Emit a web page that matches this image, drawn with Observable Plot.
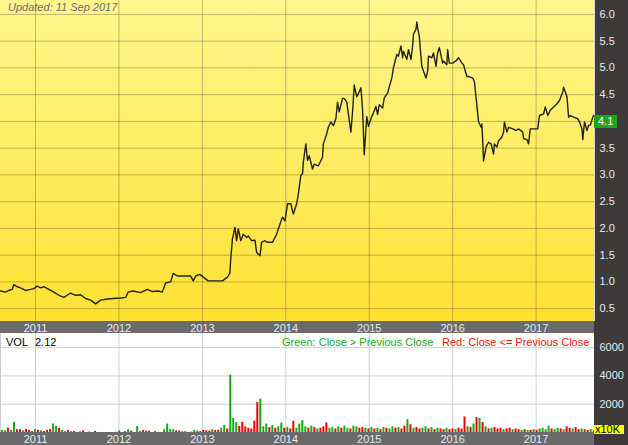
<!DOCTYPE html>
<html><head><meta charset="utf-8">
<script src="https://cdn.jsdelivr.net/npm/d3@7"></script>
<script src="https://cdn.jsdelivr.net/npm/@observablehq/plot@0.6"></script>
<style>
html,body{margin:0;padding:0;background:#3e3a39;}
#wrap{position:relative;width:628px;height:445px;overflow:hidden;font-family:"Liberation Sans",Arial,sans-serif;}
.abs{position:absolute;}
.t{position:absolute;font-size:11px;line-height:11px;white-space:nowrap;}
</style></head><body>
<div id="wrap">
  <div class="abs" style="left:0;top:0;width:594px;height:321px;background:linear-gradient(to bottom,#fff78e,#ffe132);"></div>
  <div class="abs" style="left:0;top:321px;width:594px;height:12px;background:#6b6b6b;"></div>
  <div class="abs" style="left:0;top:333px;width:593px;height:99px;background:#fff;border-left:1px solid #ccc;"></div>
  <div class="abs" style="left:0;top:432px;width:594px;height:13px;background:#6b6b6b;"></div>
  <div class="abs" style="left:594px;top:0;width:1px;height:321px;background:#d8d8d8;"></div>
  <div id="price" class="abs" style="left:0;top:0;"></div>
  <div id="vol" class="abs" style="left:0;top:333px;"></div>
  <div class="t" style="left:8px;top:2px;font-style:italic;color:#6e6e6e;">Updated: 11 Sep 2017</div>
  <div class="t" style="left:6px;top:337px;color:#000;">VOL</div>
  <div class="t" style="left:35px;top:337px;color:#000;">2.12</div>
  <div class="t" style="left:282px;top:337px;color:#1eaa1e;">Green: Close &gt; Previous Close</div>
  <div class="t" style="left:442px;top:337px;color:#ee1111;">Red: Close &lt;= Previous Close</div>
  <div class="t" style="left:594px;top:425px;width:29px;height:9px;line-height:9px;padding-left:1px;background:#ffff00;color:#000;">x10K</div>
  <div id="tag" class="t" style="left:594px;top:0;width:19px;height:13px;line-height:13px;padding-left:4px;background:#1ea51e;color:#fff;"></div>
</div>
<script>
// ---- data ----
const yearTicks = [2011, 2012, 2013, 2014, 2015, 2016, 2017];
const priceTicks = [0.5, 1.0, 1.5, 2.0, 2.5, 3.0, 3.5, 4.0, 4.5, 5.0, 5.5, 6.0];
const volTicks = [2000, 4000, 6000];
const lastLabel = "4.1";

const priceYears = [
2010.58,2010.64,2010.68,2010.72,2010.74,2010.78,2010.82,2010.88,2010.94,2010.98,
2011.02,2011.06,2011.10,2011.16,2011.22,2011.28,2011.34,2011.38,2011.42,2011.48,
2011.54,2011.60,2011.66,2011.72,2011.78,2011.86,2011.93,2012.02,2012.08,2012.11,
2012.17,2012.26,2012.34,2012.40,2012.47,2012.52,2012.56,2012.62,2012.65,2012.70,
2012.77,2012.86,2012.89,2012.92,2012.97,2013.01,2013.07,2013.16,2013.24,2013.30,
2013.33,2013.34,2013.36,2013.39,2013.41,2013.43,2013.46,2013.49,2013.53,2013.55,
2013.59,2013.63,2013.65,2013.69,2013.71,2013.75,2013.78,2013.84,2013.89,2013.93,
2013.96,2013.99,2014.02,2014.06,2014.09,2014.13,2014.15,2014.18,2014.20,2014.21,
2014.24,2014.26,2014.28,2014.32,2014.34,2014.39,2014.44,2014.45,2014.49,2014.51,
2014.54,2014.57,2014.60,2014.62,2014.64,2014.68,2014.70,2014.73,2014.75,2014.78,
2014.80,2014.82,2014.85,2014.87,2014.90,2014.92,2014.94,2014.97,2014.99,2015.03,
2015.05,2015.08,2015.10,2015.12,2015.16,2015.18,2015.22,2015.23,2015.27,2015.29,
2015.33,2015.35,2015.38,2015.40,2015.41,2015.45,2015.47,2015.50,2015.52,2015.53,
2015.56,2015.57,2015.58,2015.60,2015.63,2015.65,2015.68,2015.70,2015.71,2015.75,
2015.77,2015.80,2015.82,2015.84,2015.88,2015.89,2015.93,2015.94,2015.96,2016.00,
2016.04,2016.07,2016.11,2016.13,2016.17,2016.19,2016.24,2016.26,2016.29,2016.31,
2016.34,2016.35,2016.36,2016.37,2016.40,2016.43,2016.46,2016.49,2016.50,2016.53,
2016.55,2016.59,2016.61,2016.62,2016.65,2016.67,2016.72,2016.76,2016.79,2016.84,
2016.85,2016.89,2016.91,2016.93,2016.97,2017.02,2017.04,2017.09,2017.11,2017.14,
2017.17,2017.21,2017.25,2017.28,2017.32,2017.33,2017.37,2017.39,2017.41,2017.45,
2017.50,2017.52,2017.55,2017.56,2017.58,2017.61,2017.63,2017.65,2017.68,2017.69];

const priceValues = [
0.83,0.81,0.84,0.86,0.95,0.91,0.89,0.84,0.86,0.875,
0.92,0.89,0.91,0.86,0.81,0.75,0.71,0.75,0.79,0.75,
0.76,0.69,0.66,0.59,0.66,0.68,0.69,0.70,0.71,0.81,
0.83,0.80,0.86,0.82,0.83,0.81,0.98,1.00,1.16,1.11,
1.11,1.11,1.02,1.11,1.14,1.09,1.02,1.02,1.02,1.09,
1.17,1.43,1.80,2.02,1.77,1.99,1.77,1.89,1.83,1.86,
1.77,1.78,1.55,1.49,1.74,1.77,1.74,1.74,1.89,2.08,
2.21,2.14,2.46,2.46,2.27,2.46,2.64,2.99,3.02,3.24,
3.58,3.27,3.36,3.11,3.20,3.17,3.33,3.58,3.77,3.89,
3.99,3.92,4.05,4.36,4.18,4.43,4.43,4.36,4.14,3.80,
4.18,4.68,4.46,4.52,4.63,4.22,3.38,4.09,3.91,4.09,
4.16,4.28,4.13,4.31,4.25,4.44,4.53,4.59,4.81,5.00,
5.25,5.22,5.41,5.19,5.31,5.16,5.34,5.16,5.41,5.63,
5.72,5.86,5.75,5.59,5.03,4.94,4.81,4.94,5.22,5.19,
5.28,5.03,5.28,5.38,5.09,5.13,5.06,5.34,5.09,5.09,
5.13,5.19,5.09,5.06,4.84,4.84,4.81,4.75,4.30,4.00,
3.89,3.95,3.64,3.26,3.52,3.61,3.58,3.39,3.58,3.52,
3.64,3.71,3.80,3.99,3.80,3.89,3.86,3.83,3.86,3.80,
3.68,3.66,3.58,3.86,3.86,3.86,4.11,4.14,4.27,4.11,
4.21,4.27,4.33,4.39,4.55,4.64,4.46,4.08,4.11,4.08,
4.05,3.99,3.86,3.66,3.99,3.83,3.93,3.93,4.08,4.11];

// volume (x10K), one bar per ~2 weeks from start year
const volStartYear = 2010.598;
const volStepYears = 0.036;
const volValues = [
150,120,310,150,720,200,200,120,200,150,
80,200,150,120,80,150,200,600,430,300,
150,60,150,50,80,0,40,120,0,30,
0,80,0,0,0,0,0,0,20,120,
0,80,200,100,0,430,80,150,100,100,
0,80,0,0,200,600,200,200,120,100,
60,60,0,30,150,100,60,150,120,100,
200,150,150,300,500,250,4050,1000,700,430,
720,400,300,250,800,2120,2360,400,600,350,
500,300,400,675,300,350,250,800,300,600,
840,400,300,450,350,250,300,400,670,300,
350,250,400,300,450,300,250,450,400,300,
350,300,250,350,250,300,200,350,300,250,
400,300,350,250,450,900,550,300,350,250,
300,400,250,350,200,300,250,200,300,200,
250,200,300,250,1100,400,350,600,1050,1000,
700,400,250,300,350,250,300,200,250,300,
200,250,200,150,200,150,150,200,150,250,
300,200,450,250,200,300,250,200,400,300,
250,350,200,250,200,150,200,150];
const volUp = [
1,1,0,1,1,0,0,1,0,0, 1,1,0,1,0,0,0,1,1,0, 1,1,0,0,0,0,0,0,0,0, 0,0,0,0,0,0,0,0,1,1,
0,1,1,0,0,1,1,0,0,0, 0,1,0,0,1,1,1,1,0,0, 1,1,0,1,1,1,0,0,0,0, 1,0,0,1,1,0,1,1,1,0,
0,0,0,0,0,0,1,1,1,0, 1,0,1,1,0,1,0,0,1,1, 1,1,0,1,0,1,0,0,0,1, 1,0,1,0,1,1,0,1,1,0,
0,1,0,1,0,1,0,1,0,1, 1,0,1,0,0,1,0,1,0,0, 1,1,0,1,0,1,0,0,1,0, 0,1,0,0,0,1,0,1,0,1,
0,1,0,1,0,0,0,1,0,0, 1,0,0,1,0,1,0,1,0,1, 1,1,1,0,1,1,0,1,0,0, 1,0,0,1,0,0,1,1];

// ---- build ----
const xDomain = [2010.58, 2017.70];
const priceData = priceYears.map((t, i) => ({t, p: priceValues[i]}));
const volData = volValues.map((v, i) => ({t: volStartYear + i * volStepYears, v, up: volUp[i] === 1}));
const last = priceData[priceData.length - 1];
// the last-value tag hides the tick label it sits on
const priceAxisTicks = priceTicks.filter(v => Math.abs(v - (last.p - 0.11)) > 0.2);
const font = '"Liberation Sans", Arial, sans-serif';
const gridCol = "#57542f";

const pricePlot = Plot.plot({
  width: 628, height: 333,
  marginLeft: 0, marginRight: 34, marginTop: 0, marginBottom: 12,
  style: {background: "transparent", fontFamily: font, fontSize: "11px", color: "#e4eaf6", overflow: "visible"},
  x: {domain: xDomain, ticks: yearTicks, tickFormat: "d", tickSize: 0, tickPadding: 3, label: null},
  y: {domain: [0.26, 6.26], axis: "right", ticks: priceAxisTicks, tickFormat: ".1f", tickSize: 0, tickPadding: 5, label: null},
  marks: [
    Plot.ruleX(yearTicks, {x: d => d, stroke: gridCol, strokeOpacity: 0.38}),
    Plot.ruleY(priceTicks, {y: d => d, stroke: gridCol, strokeOpacity: 0.38}),
    Plot.line(priceData, {x: "t", y: "p", stroke: "#222", strokeWidth: 1.4})
  ]
});
document.getElementById("price").appendChild(pricePlot);

// last value tag (positioned through the plot's own y scale)
const ys = pricePlot.scale("y");
const yLast = ys.apply ? ys.apply(last.p) : d3.scaleLinear(ys.domain, ys.range)(last.p);
const tag = document.getElementById("tag");
tag.style.top = Math.round(yLast) + "px";
tag.textContent = lastLabel;

const volPlot = Plot.plot({
  width: 628, height: 112,
  marginLeft: 0, marginRight: 34, marginTop: 0, marginBottom: 13,
  style: {background: "transparent", fontFamily: font, fontSize: "11px", color: "#e4eaf6", overflow: "visible"},
  x: {domain: xDomain, ticks: yearTicks, tickFormat: "d", tickSize: 0, tickPadding: 3, label: null},
  y: {domain: [0, 7000], axis: "right", ticks: volTicks, tickFormat: "d", tickSize: 0, tickPadding: 5, label: null},
  marks: [
    Plot.ruleX(yearTicks, {x: d => d, stroke: "#cfcfcf"}),
    Plot.ruleY(volTicks, {y: d => d, stroke: "#cfcfcf"}),
    Plot.ruleX(volData.filter(d => d.up), {x: "t", y1: 0, y2: "v", stroke: "#16a616", strokeWidth: 2}),
    Plot.ruleX(volData.filter(d => !d.up), {x: "t", y1: 0, y2: "v", stroke: "#ee0000", strokeWidth: 2})
  ]
});
document.getElementById("vol").appendChild(volPlot);
</script>
</body></html>
